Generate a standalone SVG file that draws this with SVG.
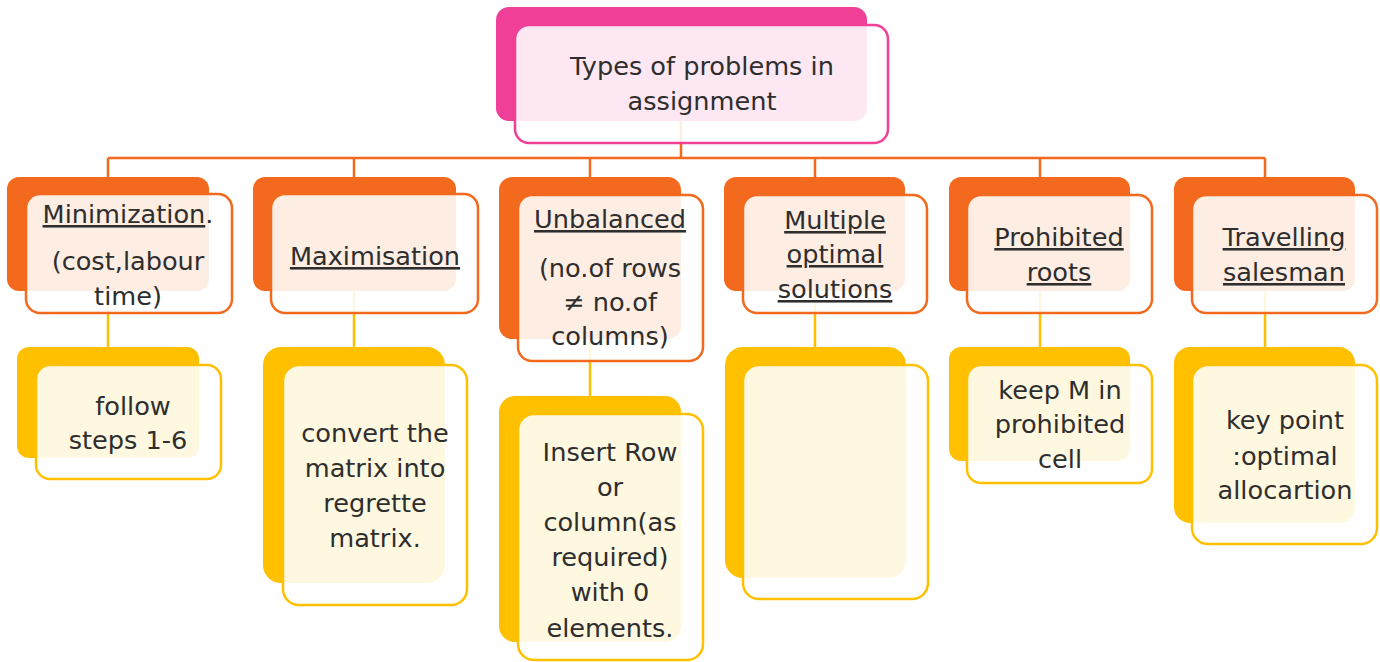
<svg xmlns="http://www.w3.org/2000/svg" width="1380" height="662" viewBox="0 0 1380 662">
  <style>
    text { font-family: "DejaVu Sans", "Noto Sans", sans-serif; font-size: 25.6px; fill: #2e2e2e; text-anchor: middle; }
    .u { text-decoration: underline; }
    .face { fill: #ffffff; fill-opacity: 0.88; stroke-width: 2.5; }
    .pink .back { fill: #EF3F97; }
    .pink .face { stroke: #EF3F97; }
    .orange .back { fill: #F3691D; }
    .orange .face { stroke: #F3691D; }
    .yellow .back { fill: #FFC000; }
    .yellow .face { stroke: #FFC000; }
    .l1 { stroke: #F3691D; stroke-width: 2.5; fill: none; }
    .l2 { stroke: #FFC000; stroke-width: 2.5; fill: none; }
  </style>
  <rect width="1380" height="662" fill="#ffffff"/>

  <g id="connectors">
    <path class="l1" d="M681 121V158M108 158H1265M108 158V177M354 158V177M590 158V177M815 158V177M1040 158V177M1265 158V177"/>
    <path class="l2" d="M108 291V347M354 291V347M590 339V396M815 291V347M1040 291V347M1265 291V347"/>
  </g>

  <g id="root" class="pink">
    <rect class="back" x="496" y="7" width="371" height="114" rx="13"/>
    <rect class="face" x="515" y="25" width="373" height="118" rx="14"/>
    <text x="702" y="75">Types of problems in</text>
    <text x="702" y="110">assignment</text>
  </g>

  <g id="minimization" class="orange">
    <rect class="back" x="7" y="177" width="202" height="114" rx="12"/>
    <rect class="face" x="26" y="194" width="206" height="119" rx="14"/>
    <text x="128" y="223"><tspan class="u">Minimization</tspan>.</text>
    <text x="128" y="270">(cost,labour</text>
    <text x="128" y="305">time)</text>
  </g>

  <g id="maximisation" class="orange">
    <rect class="back" x="253" y="177" width="203" height="114" rx="12"/>
    <rect class="face" x="271" y="194" width="207" height="119" rx="14"/>
    <text class="u" x="375" y="265">Maximisation</text>
  </g>

  <g id="unbalanced" class="orange">
    <rect class="back" x="499" y="177" width="182" height="162" rx="13"/>
    <rect class="face" x="518" y="195" width="185" height="166" rx="14"/>
    <text class="u" x="610" y="228">Unbalanced</text>
    <text x="610" y="277">(no.of rows</text>
    <text x="610" y="311">≠ no.of</text>
    <text x="610" y="345">columns)</text>
  </g>

  <g id="multiple" class="orange">
    <rect class="back" x="724" y="177" width="181" height="114" rx="12"/>
    <rect class="face" x="743" y="195" width="184" height="118" rx="14"/>
    <text class="u" x="835" y="229">Multiple</text>
    <text class="u" x="835" y="263">optimal</text>
    <text class="u" x="835" y="298">solutions</text>
  </g>

  <g id="prohibited" class="orange">
    <rect class="back" x="949" y="177" width="181" height="114" rx="12"/>
    <rect class="face" x="967" y="195" width="185" height="118" rx="14"/>
    <text class="u" x="1059" y="246">Prohibited</text>
    <text class="u" x="1059" y="281">roots</text>
  </g>

  <g id="travelling" class="orange">
    <rect class="back" x="1174" y="177" width="181" height="114" rx="12"/>
    <rect class="face" x="1192" y="195" width="185" height="118" rx="14"/>
    <text class="u" x="1284" y="246">Travelling</text>
    <text class="u" x="1284" y="281">salesman</text>
  </g>

  <g id="follow-steps" class="yellow">
    <rect class="back" x="17" y="347" width="182" height="111" rx="12"/>
    <rect class="face" x="36" y="365" width="185" height="114" rx="14"/>
    <text x="133" y="415">follow</text>
    <text x="128" y="449">steps 1-6</text>
  </g>

  <g id="regret-matrix" class="yellow">
    <rect class="back" x="263" y="347" width="182" height="236" rx="18"/>
    <rect class="face" x="283" y="365" width="184" height="240" rx="16"/>
    <text x="375" y="442">convert the</text>
    <text x="375" y="477">matrix into</text>
    <text x="375" y="512">regrette</text>
    <text x="375" y="547">matrix.</text>
  </g>

  <g id="insert-row" class="yellow">
    <rect class="back" x="499" y="396" width="182" height="246" rx="16"/>
    <rect class="face" x="518" y="414" width="185" height="246" rx="16"/>
    <text x="610" y="461">Insert Row</text>
    <text x="610" y="496">or</text>
    <text x="610" y="531">column(as</text>
    <text x="610" y="566">required)</text>
    <text x="610" y="601">with 0</text>
    <text x="610" y="637">elements.</text>
  </g>

  <g id="multiple-child" class="yellow">
    <rect class="back" x="725" y="347" width="181" height="231" rx="18"/>
    <rect class="face" x="743" y="365" width="185" height="234" rx="16"/>
  </g>

  <g id="keep-m" class="yellow">
    <rect class="back" x="949" y="347" width="181" height="114" rx="12"/>
    <rect class="face" x="967" y="365" width="185" height="118" rx="14"/>
    <text x="1060" y="399">keep M in</text>
    <text x="1060" y="433">prohibited</text>
    <text x="1060" y="468">cell</text>
  </g>

  <g id="key-point" class="yellow">
    <rect class="back" x="1174" y="347" width="181" height="176" rx="16"/>
    <rect class="face" x="1192" y="365" width="185" height="179" rx="16"/>
    <text x="1285" y="429">key point</text>
    <text x="1285" y="465">:optimal</text>
    <text x="1285" y="499">allocartion</text>
  </g>
</svg>
